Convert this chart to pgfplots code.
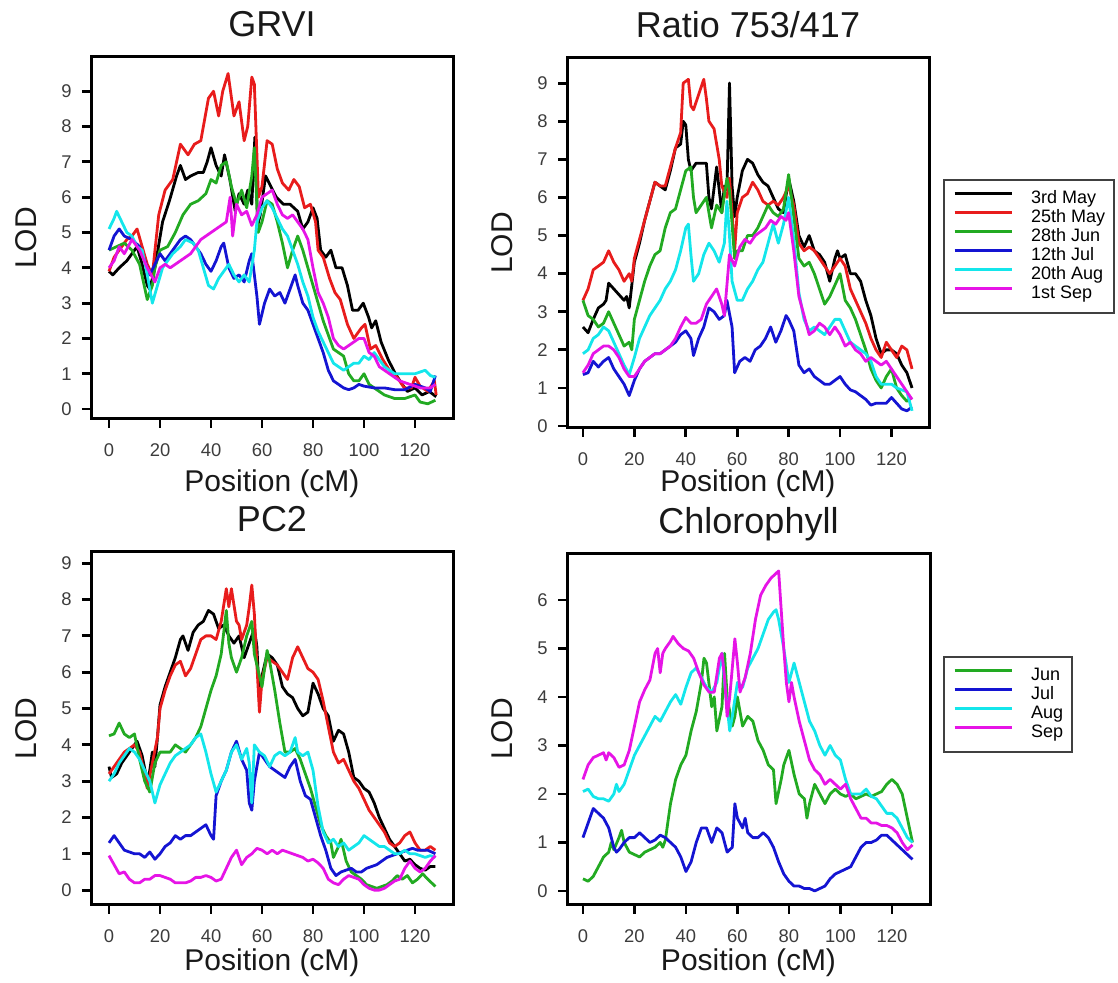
\documentclass[border=0pt]{standalone}
\usepackage{fontspec}
\setmainfont{Liberation Sans}
\usepackage{pgfplots}
\pgfplotsset{compat=1.18}
\definecolor{cK}{RGB}{0,0,0}
\definecolor{cR}{RGB}{232,28,28}
\definecolor{cG}{RGB}{34,170,34}
\definecolor{cB}{RGB}{20,20,210}
\definecolor{cC}{RGB}{20,230,235}
\definecolor{cM}{RGB}{230,20,230}
\definecolor{tk}{RGB}{60,60,60}
\pgfplotsset{
  lodpanel/.style={
    scale only axis, anchor=south west,
    axis line style={line width=1.5pt, black},
    tick align=outside, major tick length=4.5pt,
    major tick style={line width=1.4pt, black},
    xtick={0,20,...,120}, xtick pos=bottom, ytick pos=left,
    tick label style={font=\fontsize{9.2}{10}\selectfont, text=tk},
    /pgf/number format/assume math mode=true,
    xticklabel style={anchor=north, inner ysep=0pt, yshift=-7.5pt},
    yticklabel style={anchor=east, inner xsep=0pt, xshift=-5pt},
    title style={font=\fontsize{18}{20}\selectfont, at={(axis description cs:0.5,1)}, anchor=base, yshift=4pt, text=black!90},
    label style={font=\fontsize{15}{17}\selectfont, text=black!90},
    xlabel={Position (cM)}, ylabel={LOD},
    ylabel style={at={(axis description cs:-0.1796,0.5)}, anchor=center},
    no markers,
    every axis plot/.append style={line width=1.4pt, line join=round},
    legend cell align=left,
    legend image code/.code={\draw[##1,line width=1.5pt] (0pt,3pt) -- (28.5pt,3pt);},
    legend style={draw=black!75, line width=1pt, anchor=north west,
      font=\fontsize{9}{9.5}\selectfont, inner xsep=4.5pt, inner ysep=4.8pt,
      row sep=0pt, column sep=9pt,
      nodes={inner sep=0pt, text height=7pt, text depth=2.5pt}},
  }
}
\begin{document}
\begin{tikzpicture}
\useasboundingbox (0,0) rectangle (559pt,491.5pt);
% ---------------- GRVI
\begin{axis}[lodpanel, at={(45.5pt,282pt)}, width=181pt, height=181pt,
  xmin=-7.06, xmax=134.9, ymin=-0.28, ymax=9.97, ytick={0,...,9},
  title={GRVI}, xlabel style={at={(axis description cs:0.5,0)}, anchor=base, yshift=-36.5pt}]
\addplot[cK] coordinates {(0,3.9)(1.5,3.8)(4,4.0)(7,4.2)(9,4.4)(11,4.6)(13,4.1)(15,3.5)(16,3.4)(17,3.7)(18,4.0)(21,5.3)(23.7,5.9)(26.5,6.6)(28,6.9)(30,6.5)(32,6.6)(35,6.7)(37,6.7)(38.5,7.0)(40,7.4)(42,6.9)(44,6.6)(45.3,7.2)(47.4,6.5)(49.5,5.6)(51,6.1)(53,5.8)(54.4,6.2)(56,5.8)(57.2,7.7)(58.3,5.2)(59.3,5.5)(61.4,6.6)(63.5,6.3)(65.6,6.0)(68.4,5.8)(71,5.8)(74,5.6)(76,5.1)(78,5.3)(80,5.7)(81.6,5.4)(83,4.5)(85,4.3)(87,4.5)(89,4.0)(91.4,4.0)(93.5,3.5)(95.5,2.8)(97.7,2.8)(99.7,3.0)(101.8,2.6)(103,2.3)(104.6,2.5)(106.7,1.9)(109.5,1.4)(112.3,1.0)(115,0.7)(117,0.5)(120,0.6)(122.8,0.4)(125.6,0.5)(128.3,0.35)};
\addplot[cR] coordinates {(0,3.9)(2,4.3)(5,4.6)(7,4.8)(9,4.9)(11,5.1)(13,4.6)(15,4.1)(17,3.8)(19.5,5.5)(22,6.2)(25,6.5)(28,7.5)(31,7.2)(33.5,7.5)(36,7.6)(39,8.8)(41,9.0)(43,8.3)(44.6,9.0)(46.7,9.5)(49,8.3)(51,8.7)(53,7.6)(54.4,8.0)(56,9.4)(57,9.2)(58.6,6.0)(60,6.3)(62,7.6)(64,7.5)(66,6.8)(68,6.4)(70.5,6.2)(72.5,6.5)(74.6,6.3)(76.7,5.7)(79,5.8)(81,5.3)(82,4.5)(84,4.3)(86.5,3.7)(88.6,3.3)(90.7,3.1)(93.5,2.4)(96,2.0)(99,2.3)(100.4,2.4)(102.5,1.7)(104.6,1.8)(107.4,1.4)(110,1.1)(113,0.9)(115.8,0.6)(118.6,0.6)(120,0.9)(122,0.65)(125,0.5)(127.6,0.8)(128.3,0.4)};
\addplot[cG] coordinates {(0,4.5)(3,4.6)(6,4.7)(9,4.5)(12,4.1)(15,3.1)(17,3.5)(18,4.0)(20,4.5)(23,4.6)(26,5.0)(29,5.5)(32,5.8)(35,5.9)(38,6.1)(40,6.5)(42,6.4)(44,6.9)(46,7.0)(48,6.3)(50,5.8)(52,6.2)(54,5.7)(56,6.6)(57,7.4)(58.5,5.0)(60,5.3)(62,5.9)(64,5.8)(66,5.3)(68,4.7)(70,4.0)(72,4.5)(74,4.9)(76,4.5)(78,4.0)(80,3.5)(82,3.0)(84,2.5)(86,2.1)(88,1.7)(90,1.6)(92,1.5)(94,1.0)(96,0.8)(98,0.8)(100,1.0)(102,0.7)(104,0.6)(108,0.4)(112,0.3)(116,0.3)(120,0.4)(122,0.2)(125,0.15)(128,0.25)};
\addplot[cB] coordinates {(0,4.5)(2,4.9)(4,5.1)(6,4.9)(9,4.8)(12,4.6)(14,4.2)(16,3.8)(18,4.1)(20,4.4)(22,4.2)(24,4.4)(26,4.6)(28,4.8)(30,4.9)(32,4.8)(34,4.6)(36,4.4)(38,4.1)(40,3.9)(42,4.2)(44,4.6)(45,4.7)(47,4.0)(49,3.7)(51,3.8)(53,3.6)(55,4.2)(56,4.4)(58,3.2)(59,2.4)(61,3.0)(63,3.4)(65,3.2)(67,3.3)(69,3.0)(71,3.4)(73,3.8)(74,3.5)(76,3.0)(78,2.8)(80,2.4)(82,2.0)(84,1.6)(86,1.1)(88,0.8)(90,0.7)(92,0.6)(94,0.55)(96,0.6)(98,0.7)(100,0.65)(104,0.6)(108,0.6)(112,0.55)(116,0.55)(120,0.7)(124,0.6)(126,0.5)(128,0.95)};
\addplot[cC] coordinates {(0,5.1)(2,5.4)(3,5.6)(5,5.3)(7,5.0)(9,4.9)(11,4.6)(13,4.5)(15,3.8)(17,3.0)(19,3.5)(21,4.0)(23,4.2)(25,4.4)(28,4.6)(30,4.8)(33,4.7)(35,4.5)(37,4.0)(39,3.5)(41,3.4)(43,3.7)(45,3.9)(47,4.1)(49,3.8)(51,3.6)(53,3.8)(55,3.6)(57,4.5)(58,5.3)(60,5.7)(62,5.9)(64,5.7)(66,5.4)(68,5.1)(70,4.9)(72,4.5)(74,4.1)(76,3.6)(78,3.2)(80,2.6)(82,2.2)(84,1.9)(86,1.6)(88,1.3)(90,1.2)(92,1.1)(94,1.2)(96,1.3)(98,1.3)(100,1.5)(102,1.4)(104,1.6)(106,1.4)(108,1.2)(112,1.0)(116,1.0)(120,1.0)(124,1.1)(126,0.95)(128,0.9)};
\addplot[cM] coordinates {(0,4.0)(2,4.2)(4,4.6)(6,4.4)(9,4.8)(12,4.5)(15,4.0)(18,3.6)(20,4.0)(22,4.1)(24,4.0)(26,4.1)(28,4.2)(30,4.3)(32,4.4)(34,4.6)(36,4.8)(38,4.9)(40,5.0)(42,5.1)(44,5.2)(46,5.3)(47.5,6.0)(48.5,4.9)(50,5.8)(52,5.5)(54,5.6)(56,5.2)(58,5.5)(60,6.0)(62,6.1)(64,6.2)(66,5.8)(68,5.5)(70,5.4)(72,5.5)(74,5.3)(76,5.1)(78,4.8)(80,4.0)(82,3.3)(84,3.0)(86,2.6)(88,2.0)(90,1.8)(92,1.7)(94,1.8)(96,1.9)(98,2.0)(100,2.0)(102,1.6)(104,1.5)(106,1.2)(110,1.0)(114,0.8)(118,0.7)(122,0.6)(126,0.6)(128,0.7)};
\end{axis}
% ---------------- Ratio
\begin{axis}[lodpanel, at={(283.5pt,277.5pt)}, width=181pt, height=185pt,
  xmin=-6.2, xmax=134.6, ymin=-0.05, ymax=9.66, ytick={0,...,9},
  title={Ratio 753/417}, xlabel style={at={(axis description cs:0.5,0)}, anchor=base, yshift=-32pt},
  legend style={at={(axis description cs:1.0387,0.673)}}]
\addplot[cK] coordinates {(0,2.6)(2,2.45)(4,2.8)(6,3.1)(8,3.2)(9,3.3)(10,3.75)(12,3.6)(14,3.45)(16,3.3)(17,3.4)(18,3.1)(20,4.3)(22,4.8)(24,5.4)(26,5.9)(28,6.4)(30,6.3)(32,6.2)(34,6.7)(36,7.3)(38,7.4)(39,8.0)(40,7.9)(41,7.0)(42,6.7)(44,6.9)(46,6.9)(48,6.9)(49,6.0)(50,5.7)(52,6.8)(53,6.2)(54,5.6)(55,6.3)(56,6.2)(57,9.0)(58,6.3)(59,5.5)(60,6.0)(62,6.7)(64,7.0)(66,6.9)(68,6.6)(70,6.4)(72,6.3)(74,6.0)(76,5.7)(78,5.6)(80,6.5)(82,5.9)(84,5.0)(86,4.7)(88,5.0)(90,4.6)(92,4.5)(94,4.3)(96,3.8)(98,4.4)(99,4.6)(100,4.4)(102,4.5)(104,4.0)(106,4.0)(108,3.8)(110,3.3)(112,2.9)(114,2.3)(116,1.9)(118,2.0)(120,2.0)(122,1.9)(124,1.6)(126,1.4)(128,1.0)};
\addplot[cR] coordinates {(0,3.3)(2,3.6)(4,4.1)(6,4.2)(8,4.3)(10,4.6)(12,4.3)(14,4.1)(16,3.8)(18,4.0)(19,3.8)(20,4.4)(22,4.9)(24,5.4)(26,5.9)(28,6.4)(30,6.3)(32,6.3)(34,6.8)(36,7.3)(38,7.7)(39,9.0)(41,9.1)(42,8.4)(43,8.3)(45,8.7)(47,9.1)(48,8.6)(49,8.0)(51,7.8)(53,7.0)(54,6.3)(56,6.0)(57,6.5)(58,5.6)(59,4.6)(60,5.6)(62,6.0)(64,6.1)(66,6.4)(68,6.2)(70,5.9)(72,5.8)(74,5.9)(76,5.8)(78,6.0)(80,6.3)(82,5.8)(84,4.8)(86,4.6)(88,4.7)(90,4.6)(92,4.4)(94,4.2)(96,4.0)(98,4.2)(100,4.4)(102,4.2)(104,3.6)(106,3.3)(108,3.0)(110,2.7)(112,2.3)(114,2.0)(116,1.8)(118,2.2)(120,2.0)(122,1.8)(124,2.1)(126,2.0)(128,1.5)};
\addplot[cG] coordinates {(0,3.3)(2,2.9)(4,2.8)(6,2.6)(8,2.7)(10,3.0)(12,2.7)(14,2.4)(16,2.1)(18,2.2)(19,2.0)(20,2.8)(22,3.3)(24,3.8)(26,4.2)(28,4.5)(30,4.6)(32,5.2)(34,5.6)(36,5.7)(38,6.2)(40,6.7)(42,6.8)(43,6.0)(44,5.6)(46,5.8)(48,6.0)(49,5.6)(50,5.2)(52,5.8)(54,5.6)(56,6.5)(57,6.2)(59,4.4)(60,4.6)(62,4.6)(64,5.0)(66,5.0)(68,5.2)(70,5.5)(72,5.8)(74,5.6)(76,5.5)(78,5.7)(80,6.6)(82,5.5)(84,4.4)(86,4.2)(88,4.3)(90,4.0)(92,3.6)(94,3.2)(96,3.4)(98,3.7)(100,4.0)(102,3.3)(104,3.1)(106,2.8)(108,2.4)(110,2.0)(112,1.5)(114,1.2)(116,1.0)(118,1.3)(120,1.5)(122,1.0)(124,0.8)(126,0.65)(128,0.75)};
\addplot[cB] coordinates {(0,1.35)(2,1.4)(4,1.7)(6,1.55)(8,1.7)(10,1.8)(12,1.5)(14,1.3)(16,1.1)(18,0.8)(20,1.2)(22,1.5)(24,1.7)(26,1.8)(28,1.9)(30,1.9)(32,2.0)(34,2.1)(36,2.2)(38,2.4)(40,2.5)(42,2.3)(43,1.85)(45,2.3)(47,2.6)(49,3.1)(51,3.0)(53,2.8)(55,2.9)(56,3.3)(58,2.6)(59,1.4)(61,1.7)(63,1.8)(65,1.7)(67,2.0)(69,2.1)(71,2.3)(73,2.6)(75,2.2)(77,2.5)(79,2.9)(80,2.8)(82,2.5)(84,1.6)(86,1.4)(88,1.5)(90,1.3)(92,1.2)(94,1.1)(96,1.1)(98,1.2)(100,1.3)(102,1.1)(104,0.95)(106,0.9)(108,0.8)(110,0.7)(112,0.55)(114,0.6)(116,0.6)(118,0.6)(120,0.75)(122,0.6)(124,0.45)(126,0.4)(128,0.5)};
\addplot[cC] coordinates {(0,1.9)(2,2.0)(4,2.3)(6,2.4)(8,2.6)(10,2.5)(12,2.2)(14,1.9)(16,1.6)(18,1.35)(20,1.8)(22,2.3)(24,2.6)(26,2.9)(28,3.1)(30,3.3)(32,3.6)(34,3.8)(36,4.1)(38,4.6)(40,5.2)(41,5.3)(42,4.5)(43,3.8)(45,4.0)(47,4.5)(49,4.8)(51,4.6)(53,4.3)(55,4.8)(56,5.9)(57,5.0)(58,3.8)(60,3.3)(62,3.3)(64,3.6)(66,3.8)(68,4.1)(70,4.3)(72,4.8)(74,5.3)(76,4.8)(78,5.3)(80,6.0)(82,4.9)(84,3.5)(86,2.8)(88,2.5)(90,2.6)(92,2.5)(94,2.4)(96,2.6)(98,2.8)(100,2.8)(102,2.5)(104,2.2)(106,2.1)(108,2.0)(110,1.9)(112,1.7)(114,1.3)(116,1.1)(118,1.1)(120,1.1)(122,1.0)(124,0.95)(126,0.9)(128,0.4)};
\addplot[cM] coordinates {(0,1.4)(2,1.6)(4,1.9)(6,2.0)(8,2.1)(10,2.1)(12,2.0)(14,1.8)(16,1.5)(18,1.3)(20,1.3)(22,1.5)(24,1.7)(26,1.8)(28,1.9)(30,1.9)(32,2.0)(34,2.1)(36,2.3)(38,2.6)(40,2.85)(42,2.7)(44,2.7)(46,2.8)(48,3.2)(50,3.4)(52,3.6)(54,3.2)(55,2.9)(57,4.5)(59,4.2)(61,4.7)(63,4.9)(65,4.8)(67,5.0)(69,5.1)(71,5.2)(73,5.4)(75,5.3)(77,5.5)(79,5.4)(80,5.6)(82,4.6)(84,3.4)(86,2.9)(88,2.4)(90,2.5)(92,2.7)(94,2.6)(96,2.4)(98,2.6)(100,2.4)(102,2.1)(104,2.2)(106,2.0)(108,1.9)(110,1.7)(112,1.8)(114,1.7)(116,1.6)(118,1.7)(120,1.5)(122,1.3)(124,1.1)(126,0.9)(128,0.7)};
\legend{3rd May,25th May,28th Jun,12th Jul,20th Aug,1st Sep}
\end{axis}
% ---------------- PC2
\begin{axis}[lodpanel, at={(45.5pt,39pt)}, width=181pt, height=176.5pt,
  xmin=-7.06, xmax=134.9, ymin=-0.41, ymax=9.31, ytick={0,...,9},
  title={PC2}, xlabel style={at={(axis description cs:0.5,0)}, anchor=base, yshift=-33pt}]
\addplot[cK] coordinates {(0,3.4)(1,3.1)(3,3.2)(5,3.5)(7,3.7)(9,3.9)(11,4.1)(13,3.7)(15,3.0)(16,3.3)(17,3.8)(18,3.4)(19,4.2)(20,5.1)(22,5.6)(24,6.0)(26,6.4)(28,6.9)(29,7.0)(31,6.6)(33,7.1)(35,7.3)(37,7.4)(39,7.7)(41,7.6)(43,7.2)(45,7.3)(47,7.0)(49,6.8)(51,7.0)(53,6.4)(55,6.8)(57,7.2)(58,6.7)(59,5.2)(60,5.9)(62,6.5)(64,6.4)(66,6.2)(68,5.6)(70,5.4)(72,5.3)(74,5.0)(76,4.8)(78,4.9)(80,5.7)(82,5.4)(84,5.0)(86,4.8)(88,4.1)(90,4.4)(92,4.3)(94,3.8)(96,3.1)(98,3.0)(100,2.8)(102,2.7)(104,2.4)(106,2.0)(108,1.7)(110,1.4)(112,1.2)(114,1.0)(116,0.8)(118,0.85)(120,0.7)(122,0.6)(124,0.55)(126,0.65)(128,0.65)};
\addplot[cR] coordinates {(0,3.2)(2,3.4)(4,3.6)(6,3.8)(8,3.9)(10,4.0)(12,3.8)(14,3.2)(15,2.8)(17,3.5)(19,4.2)(20,5.0)(22,5.5)(24,5.9)(26,6.2)(28,6.3)(30,5.9)(32,6.1)(34,6.5)(36,6.9)(38,7.0)(40,7.0)(42,6.9)(44,7.4)(46,8.3)(47,7.8)(48,8.3)(50,7.4)(51,7.3)(52,6.9)(54,7.3)(55,7.8)(56,8.4)(57,7.6)(58,6.2)(59,4.9)(60,5.8)(62,6.4)(64,6.3)(66,6.2)(68,6.0)(70,5.8)(72,6.4)(74,6.7)(76,6.4)(78,6.1)(80,6.0)(82,5.8)(84,5.2)(86,4.5)(88,3.8)(90,3.5)(92,3.6)(94,3.3)(96,3.0)(98,2.8)(100,2.5)(102,2.2)(104,2.0)(106,1.8)(108,1.6)(110,1.3)(112,1.2)(114,1.3)(116,1.5)(118,1.6)(120,1.3)(122,1.1)(124,1.1)(126,1.2)(128,1.1)};
\addplot[cG] coordinates {(0,4.25)(2,4.3)(4,4.6)(6,4.3)(8,4.2)(10,4.3)(12,3.6)(14,3.0)(16,2.7)(18,3.5)(20,3.8)(22,3.8)(24,3.8)(26,4.0)(28,3.9)(30,3.8)(32,4.0)(34,4.2)(36,4.5)(38,5.0)(40,5.5)(42,5.9)(44,6.5)(46,7.7)(47,6.8)(48,6.4)(50,6.0)(52,6.4)(54,7.0)(56,7.4)(57,6.5)(58,6.2)(60,5.6)(62,6.6)(63,6.3)(65,5.5)(67,4.6)(69,3.8)(71,3.8)(73,3.9)(75,3.6)(77,3.2)(79,2.8)(81,2.3)(83,1.8)(85,1.5)(87,1.3)(88,0.9)(90,1.2)(91,1.4)(93,0.8)(95,0.5)(97,0.4)(99,0.3)(101,0.15)(103,0.1)(105,0.05)(107,0.1)(109,0.15)(111,0.25)(113,0.4)(115,0.3)(117,0.4)(119,0.2)(121,0.3)(123,0.45)(125,0.3)(128,0.1)};
\addplot[cB] coordinates {(0,1.3)(2,1.5)(4,1.3)(6,1.1)(8,1.05)(10,1.0)(12,1.0)(14,0.9)(16,1.05)(18,0.85)(20,1.0)(22,1.2)(24,1.3)(26,1.5)(28,1.4)(30,1.5)(32,1.5)(34,1.6)(36,1.7)(38,1.8)(40,1.5)(41,1.4)(42,2.6)(44,3.0)(46,3.3)(48,3.8)(50,4.1)(52,3.6)(54,3.3)(55,2.4)(56,2.2)(57,3.0)(59,3.8)(61,3.6)(63,3.4)(65,3.3)(67,3.2)(69,3.1)(71,3.4)(73,3.6)(75,3.0)(77,2.6)(79,2.5)(81,2.0)(83,1.5)(85,1.1)(87,0.6)(89,0.4)(91,0.5)(93,0.55)(95,0.6)(97,0.5)(99,0.5)(101,0.6)(103,0.65)(105,0.7)(107,0.8)(109,0.9)(111,0.95)(113,1.0)(115,1.05)(117,1.1)(119,1.15)(121,1.1)(123,1.1)(125,1.1)(128,1.0)};
\addplot[cC] coordinates {(0,3.0)(2,3.2)(4,3.5)(6,3.7)(8,3.9)(10,3.8)(12,3.6)(14,3.3)(16,3.0)(18,2.4)(20,2.9)(22,3.2)(24,3.5)(26,3.7)(28,3.8)(30,3.9)(32,4.0)(34,4.2)(36,4.3)(38,3.8)(40,3.2)(42,2.7)(44,3.0)(46,3.3)(48,3.8)(50,4.0)(52,3.6)(54,3.9)(55,3.5)(56,2.4)(57,4.0)(59,3.8)(61,3.7)(63,3.4)(65,3.7)(67,3.8)(69,3.7)(71,3.8)(73,4.2)(74,3.8)(76,3.7)(78,3.8)(80,3.3)(82,2.3)(84,1.6)(86,1.3)(88,1.4)(90,1.2)(92,1.3)(94,1.1)(96,1.2)(98,1.3)(100,1.5)(102,1.4)(104,1.3)(106,1.2)(108,1.2)(110,1.1)(112,1.0)(114,1.0)(116,1.1)(118,1.0)(120,1.0)(122,0.95)(124,0.9)(126,0.95)(128,0.9)};
\addplot[cM] coordinates {(0,0.95)(2,0.7)(4,0.45)(6,0.5)(8,0.3)(10,0.2)(12,0.2)(14,0.3)(16,0.3)(18,0.4)(20,0.4)(22,0.35)(24,0.3)(26,0.2)(28,0.2)(30,0.2)(32,0.25)(34,0.35)(36,0.35)(38,0.4)(40,0.35)(42,0.25)(44,0.3)(46,0.6)(48,0.9)(50,1.1)(52,0.7)(54,0.9)(56,1.0)(58,1.15)(60,1.1)(62,1.0)(64,1.1)(66,1.0)(68,1.1)(70,1.05)(72,1.0)(74,0.95)(76,0.9)(78,0.8)(80,0.85)(82,0.75)(84,0.6)(86,0.3)(88,0.2)(90,0.15)(92,0.3)(94,0.4)(96,0.35)(98,0.3)(100,0.15)(102,0.05)(104,0.0)(106,0.0)(108,0.05)(110,0.15)(112,0.25)(114,0.3)(116,0.6)(118,0.8)(120,0.6)(122,0.5)(124,0.6)(126,0.8)(128,0.95)};
\end{axis}
% ---------------- Chlorophyll
\begin{axis}[lodpanel, at={(283.5pt,39pt)}, width=181.5pt, height=176pt,
  xmin=-6.2, xmax=134.8, ymin=-0.29, ymax=6.97, ytick={0,...,6},
  title={Chlorophyll}, xlabel style={at={(axis description cs:0.5,0)}, anchor=base, yshift=-33pt},
  legend style={at={(axis description cs:1.036,0.707)}}]
\addplot[cG] coordinates {(0,0.25)(2,0.2)(4,0.3)(6,0.5)(8,0.7)(10,0.8)(11,1.0)(12,0.85)(14,1.1)(15,1.25)(16,1.0)(18,0.8)(20,0.75)(22,0.7)(24,0.8)(26,0.85)(28,0.9)(30,1.0)(31,0.9)(32,1.05)(34,1.8)(36,2.3)(38,2.6)(40,2.8)(42,3.3)(44,3.7)(46,4.3)(47,4.8)(48,4.7)(50,3.8)(51,4.0)(52,3.3)(54,3.8)(55,4.9)(56,4.0)(58,3.4)(59,3.6)(60,4.0)(62,3.4)(64,3.6)(66,3.5)(68,3.1)(70,2.9)(72,2.6)(74,2.5)(75,1.8)(77,2.3)(78,2.6)(80,2.9)(82,2.4)(84,2.0)(86,1.9)(87,1.5)(88,1.8)(90,2.2)(92,2.0)(94,1.8)(96,2.0)(98,2.1)(100,2.0)(102,1.95)(104,2.0)(106,1.9)(108,1.95)(110,2.0)(112,1.95)(114,2.0)(116,2.05)(118,2.2)(120,2.3)(122,2.2)(124,2.0)(126,1.5)(128,1.0)};
\addplot[cB] coordinates {(0,1.1)(2,1.4)(4,1.7)(6,1.6)(8,1.5)(10,1.3)(12,0.9)(13,0.8)(14,0.85)(16,1.0)(18,1.1)(20,1.1)(22,1.2)(24,1.1)(26,1.0)(28,1.05)(30,1.15)(32,1.1)(34,1.0)(36,0.9)(38,0.7)(40,0.4)(42,0.6)(44,1.0)(46,1.3)(48,1.3)(50,1.0)(52,1.3)(54,1.2)(56,0.8)(58,0.9)(59,1.8)(60,1.5)(62,1.3)(63,1.5)(64,1.2)(66,1.1)(68,1.1)(70,1.2)(72,1.1)(74,0.9)(76,0.6)(78,0.35)(80,0.2)(82,0.1)(84,0.1)(86,0.05)(88,0.05)(90,0.0)(92,0.05)(94,0.1)(96,0.25)(98,0.35)(100,0.4)(102,0.45)(104,0.5)(106,0.7)(108,0.9)(110,1.0)(112,1.0)(114,1.05)(116,1.15)(118,1.15)(120,1.05)(122,0.95)(124,0.85)(126,0.75)(128,0.65)};
\addplot[cC] coordinates {(0,2.05)(2,2.1)(4,1.95)(6,1.9)(8,1.9)(10,1.85)(12,2.0)(13,2.2)(14,2.05)(16,2.2)(18,2.5)(20,2.8)(22,3.0)(24,3.2)(26,3.4)(28,3.6)(30,3.5)(32,3.7)(34,3.9)(36,4.05)(38,3.85)(40,4.2)(42,4.5)(44,4.6)(46,4.4)(48,4.2)(50,4.1)(52,4.3)(54,4.9)(55,4.3)(56,3.8)(57,3.3)(58,3.6)(60,4.3)(62,4.2)(64,4.6)(66,4.8)(68,5.0)(70,5.3)(72,5.6)(74,5.75)(75,5.8)(76,5.6)(78,5.0)(80,4.3)(82,4.7)(84,4.3)(86,3.9)(88,3.5)(90,3.3)(92,3.0)(94,2.8)(96,3.0)(98,2.8)(100,2.7)(102,2.3)(104,2.0)(106,2.0)(108,2.0)(110,2.1)(112,1.95)(114,1.9)(116,1.75)(118,1.6)(120,1.6)(122,1.5)(124,1.3)(126,1.1)(128,1.0)};
\addplot[cM] coordinates {(0,2.3)(2,2.6)(4,2.75)(6,2.8)(8,2.85)(9,2.7)(10,2.85)(12,2.75)(14,2.55)(16,2.6)(18,2.9)(20,3.4)(22,3.9)(24,4.15)(26,4.35)(28,4.9)(29,5.0)(30,4.5)(31,4.9)(32,5.0)(34,5.15)(35,5.25)(37,5.1)(39,5.0)(41,4.95)(43,4.8)(45,4.5)(47,4.25)(49,4.1)(51,4.1)(53,4.8)(54,4.9)(55,4.4)(56,3.6)(57,4.0)(59,5.2)(60,4.7)(61,4.1)(63,4.4)(65,4.9)(67,5.6)(69,6.1)(71,6.3)(73,6.45)(75,6.55)(76,6.6)(77,5.8)(78,5.0)(79,4.3)(80,3.9)(81,4.3)(82,4.0)(84,3.5)(86,3.1)(88,2.7)(90,2.5)(92,2.4)(94,2.2)(96,2.3)(98,2.2)(100,2.1)(102,2.2)(104,1.9)(106,1.7)(108,1.5)(110,1.5)(112,1.4)(114,1.4)(116,1.35)(118,1.35)(120,1.3)(122,1.2)(124,1.0)(126,0.85)(128,0.95)};
\legend{Jun,Jul,Aug,Sep}
\end{axis}
\end{tikzpicture}
\end{document}
